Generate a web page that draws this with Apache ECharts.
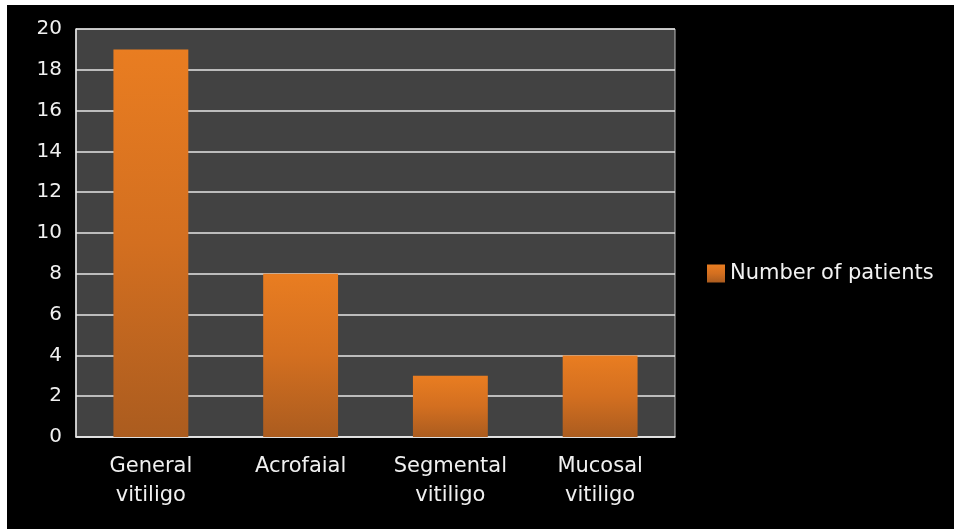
<!DOCTYPE html>
<html>
<head>
<meta charset="utf-8">
<script src="https://cdn.jsdelivr.net/npm/echarts@6/dist/echarts.min.js"></script>
<style>
  html, body { margin: 0; padding: 0; background: #000; }
  #chart { width: 954px; height: 529px; }
</style>
</head>
<body>
<div id="chart"></div>
<script>
'use strict';
// vitiligo patterns - number of patients
var categories = ['General\nvitiligo', 'Acrofaial', 'Segmental\nvitiligo', 'Mucosal\nvitiligo'];
var patients = [19, 8, 3, 4];
var seriesName = 'Number of patients';

var chart = echarts.init(document.getElementById('chart'));

var option = {
    backgroundColor: '#000000',
    animation: false,
    textStyle: {
        fontFamily: 'DejaVu Sans'
    },
    // white paper edges at top and left
    graphic: [{
        type: 'rect',
        shape: { x: 0, y: 0, width: 954, height: 5 },
        style: { fill: '#ffffff' }
    }, {
        type: 'rect',
        shape: { x: 0, y: 0, width: 7, height: 529 },
        style: { fill: '#ffffff' }
    }],
    legend: {
        orient: 'vertical',
        left: 702,
        top: 258,
        itemWidth: 18,
        itemHeight: 18,
        itemGap: 4,
        icon: 'rect',
        textStyle: {
            color: '#f2f2f2',
            fontSize: 21,
            fontFamily: 'DejaVu Sans'
        },
        data: [seriesName]
    },
    grid: {
        left: 76,
        right: 279,
        top: 29,
        bottom: 92,
        show: true,
        backgroundColor: '#424242',
        borderColor: '#bdbdbd',
        borderWidth: 1
    },
    xAxis: {
        type: 'category',
        data: categories,
        axisLine: {
            lineStyle: { color: '#e8e8e8', width: 1.5 }
        },
        axisTick: { show: false },
        axisLabel: {
            color: '#f0f0f0',
            fontSize: 21,
            lineHeight: 29,
            margin: 15,
            interval: 0
        }
    },
    yAxis: {
        type: 'value',
        min: 0,
        max: 20,
        interval: 2,
        axisLine: {
            show: true,
            lineStyle: { color: '#e8e8e8', width: 1.5 }
        },
        axisTick: { show: false },
        splitLine: {
            lineStyle: { color: '#e6e6e6', width: 1.5 }
        },
        axisLabel: {
            color: '#f0f0f0',
            fontSize: 20,
            margin: 14
        }
    },
    series: [{
        name: seriesName,
        type: 'bar',
        barWidth: '50%',
        data: patients,
        itemStyle: {
            color: new echarts.graphic.LinearGradient(0, 0, 0, 1, [
                { offset: 0, color: '#E97D21' },
                { offset: 0.5, color: '#D36F20' },
                { offset: 1, color: '#AB5C1F' }
            ])
        }
    }]
};

chart.setOption(option);
</script>
</body>
</html>
